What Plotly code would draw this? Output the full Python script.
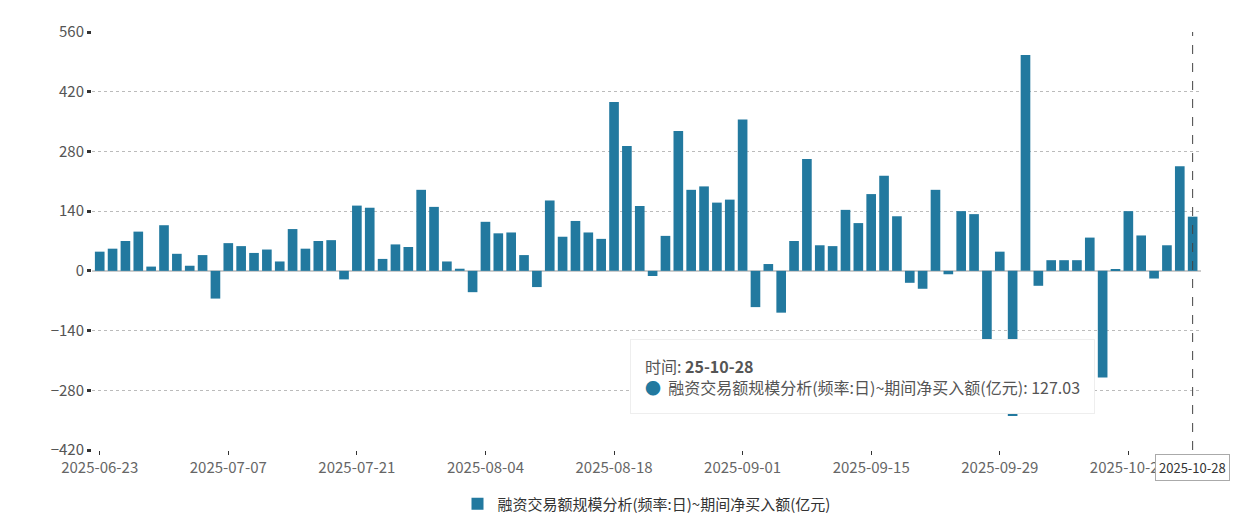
import pandas as pd
import plotly.graph_objects as go

days = pd.bdate_range("2025-06-23", "2025-10-28")
holidays = pd.date_range("2025-10-01", "2025-10-08")
dates = [d.strftime("%Y-%m-%d") for d in days if d not in holidays]

values = [45, 52, 70, 92, 10, 107, 40, 12, 37, -65,
          65, 58, 42, 50, 22, 98, 52, 70, 72, -20,
          153, 148, 28, 62, 56, 190, 150, 22, 5, -50,
          115, 88, 90, 37, -38, 165, 80, 117, 90, 75,
          396, 293, 152, -12, 82, 328, 190, 198, 160, 167,
          355, -85, 16, -98, 70, 262, 60, 58, 143, 112,
          180, 223, 128, -28, -42, 190, -8, 140, 133, -210,
          45, -340, 506, -35, 25, 25, 25, 78, -250, 4,
          140, 83, -18, 60, 245, 127.03]

series_name = "融资交易额规模分析(频率:日)~期间净买入额(亿元)"
yticks = [-420, -280, -140, 0, 140, 280, 420, 560]

color = "#22799f"
fig = go.Figure(go.Bar(x=dates, y=values, name=series_name, marker_color=color,
                       marker_line_width=0))
fig.update_layout(
    width=1255, height=525, plot_bgcolor="white", paper_bgcolor="white",
    margin=dict(l=84, r=62, t=18, b=72),
    bargap=0.25,
    font=dict(family="Noto Sans CJK SC, Roboto, sans-serif", color="#555", size=15),
    showlegend=True,
    legend=dict(orientation="h", x=0.5, xanchor="center", y=-0.09, yanchor="top",
                font=dict(size=15, color="#333")),
    xaxis=dict(type="category", tickvals=dates[::10], ticktext=dates[::10],
               range=[-0.6, len(dates) - 0.35],
               ticks="outside", ticklen=4, tickcolor="#333", showgrid=False,
               tickfont=dict(size=15, color="#666")),
    yaxis=dict(range=[-420, 560], tickvals=yticks, showgrid=True, gridcolor="#bbb",
               griddash="dot", zeroline=True, zerolinecolor="#ccc", zerolinewidth=2,
               ticks="outside", ticklen=4, tickwidth=3, tickcolor="#333",
               tickfont=dict(size=15, color="#555")),
)
fig.add_shape(type="line", xref="x", yref="paper", x0=dates[-1], x1=dates[-1], y0=0, y1=1,
              line=dict(color="#444", width=1, dash="dash"))
fig.add_annotation(xref="x", yref="paper", x=dates[-1], y=-0.01, yanchor="top",
                   text="2025-10-28", showarrow=False, bgcolor="white", bordercolor="#aaa",
                   borderwidth=1, borderpad=3, font=dict(size=13, color="#333"))
fig.add_annotation(xref="paper", yref="paper", x=0.485, y=0.265, xanchor="left", yanchor="top",
                   align="left", showarrow=False, bgcolor="white", bordercolor="#eee",
                   borderwidth=1, borderpad=14,
                   text=f"时间: <b>25-10-28</b><br><span style='color:{color}'>●</span>  "
                        f"{series_name}: {values[-1]:.2f}",
                   font=dict(size=16, color="#555"))
fig.write_html("out.html")
